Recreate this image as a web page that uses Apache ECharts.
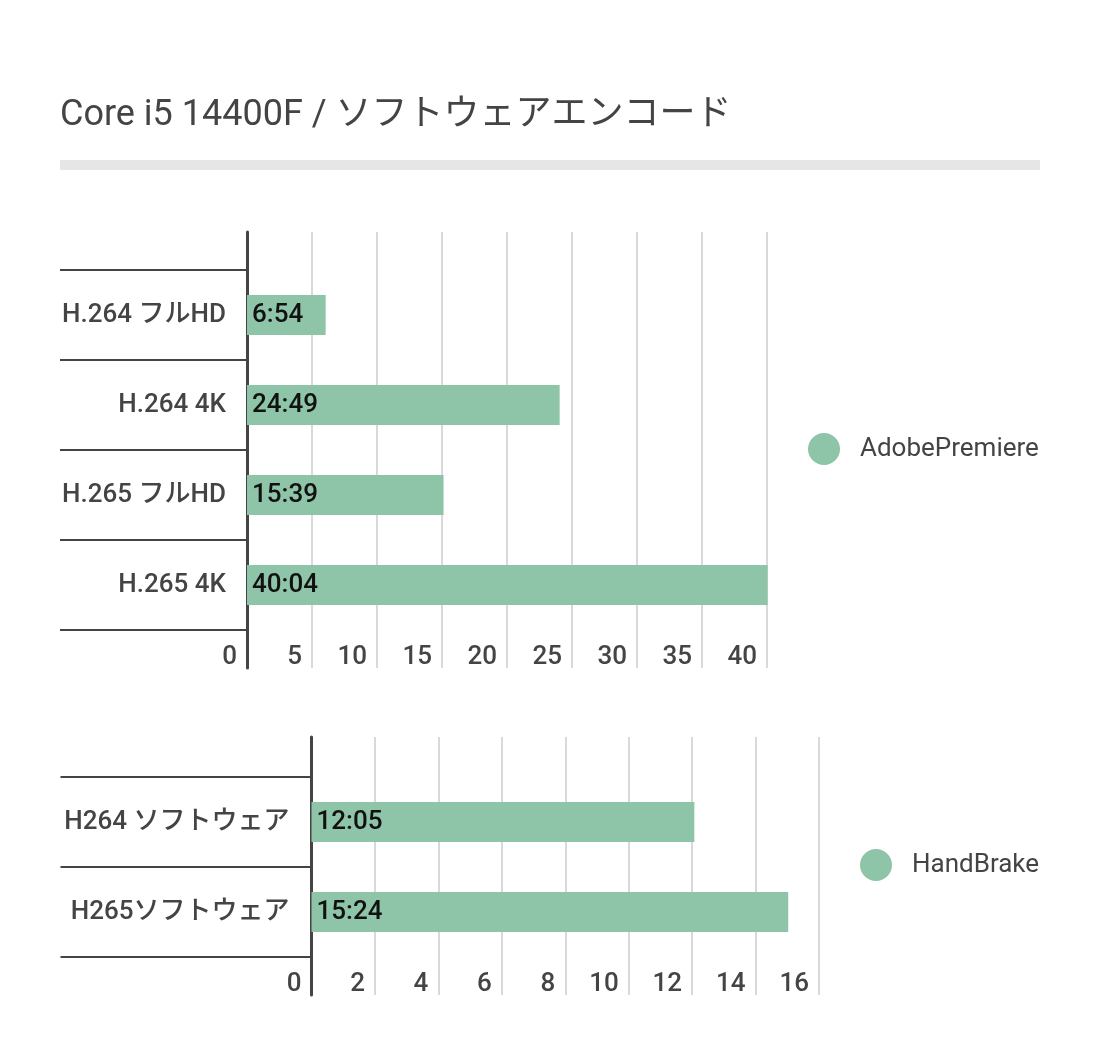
<!DOCTYPE html>
<html>
<head>
<meta charset="utf-8">
<script src="https://cdn.jsdelivr.net/npm/echarts@6/dist/echarts.min.js"></script>
<style>
html,body{margin:0;padding:0;background:#fff;}
#main{width:1100px;height:1064px;}
</style>
</head>
<body>
<div id="main"></div>
<script>
var titleText = 'Core i5 14400F / ソフトウェアエンコード';

var premiereName = 'AdobePremiere';
var premiereCategories = ['H.264 フルHD', 'H.264 4K', 'H.265 フルHD', 'H.265 4K'];
var premiereValues = [6.05, 24.05, 15.12, 40.05];
var premiereLabels = ['6:54', '24:49', '15:39', '40:04'];
var premiereTicks = [0, 40, 5];

var handbrakeName = 'HandBrake';
var handbrakeCategories = ['H264 ソフトウェア', 'H265ソフトウェア'];
var handbrakeValues = [12.07, 15.03];
var handbrakeLabels = ['12:05', '15:24'];
var handbrakeTicks = [0, 16, 2];

var FONT = 'Roboto, "Noto Sans CJK JP", sans-serif';
var TEXT = '#444444';
var BAR = '#8ec4a8';
var FS = 26;

var chart = echarts.init(document.getElementById('main'), null, {renderer: 'canvas'});

function catAxis(gridIndex, data, tickLen, margin) {
  return {
    type: 'category', gridIndex: gridIndex, data: data, inverse: true,
    axisLine: {show: false},
    axisTick: {show: true, length: tickLen, lineStyle: {color: TEXT, width: 2}},
    axisLabel: {margin: margin, color: TEXT, fontSize: FS, fontWeight: 500, fontFamily: FONT, padding: [9, 0, 0, 0]},
    splitLine: {show: false}
  };
}
function hiddenValAxis(gridIndex, ticks) {
  return {type: 'value', gridIndex: gridIndex, min: ticks[0], max: ticks[1], interval: ticks[2], show: false};
}
function frameXAxis(gridIndex, ticks) {
  return {
    type: 'value', gridIndex: gridIndex, min: ticks[0], max: ticks[1], interval: ticks[2],
    axisLine: {show: false}, axisTick: {show: false},
    splitLine: {show: true, lineStyle: {color: '#d9d9d9', width: 2}},
    axisLabel: {inside: true, margin: -2, align: 'right', padding: [0, 10, 0, 0],
      color: TEXT, fontSize: FS, fontWeight: 500, fontFamily: FONT}
  };
}
function frameYAxis(gridIndex) {
  return {
    type: 'value', gridIndex: gridIndex, min: 0, max: 1,
    axisLine: {show: true, onZero: false, lineStyle: {color: TEXT, width: 3}},
    axisTick: {show: false}, axisLabel: {show: false}, splitLine: {show: false}
  };
}
function barSeries(name, idx, values, labels) {
  return {
    name: name, type: 'bar', xAxisIndex: idx, yAxisIndex: idx,
    data: values, barWidth: 40, clip: false,
    itemStyle: {color: BAR},
    label: {show: true, position: 'insideLeft', distance: 5,
      formatter: function (p) { return labels[p.dataIndex]; },
      color: '#111111', fontSize: FS, fontWeight: 500, fontFamily: FONT, padding: [9, 0, 0, 0]},
    emphasis: {disabled: true}
  };
}

var option = {
  backgroundColor: '#ffffff',
  animation: false,
  title: {
    text: titleText, left: 60, top: 98, padding: 0,
    textStyle: {color: TEXT, fontSize: 36, fontWeight: 400, fontFamily: FONT}
  },
  graphic: [{type: 'rect', shape: {x: 60, y: 160, width: 980, height: 10}, style: {fill: '#e6e6e6'}, silent: true}],
  legend: [
    {data: [premiereName], left: 808, top: 433, padding: 0, icon: 'circle', itemWidth: 32, itemHeight: 32,
      textStyle: {color: TEXT, fontSize: FS, fontFamily: FONT, padding: [6, 0, 0, 15]}, selectedMode: false},
    {data: [handbrakeName], left: 860, top: 849, padding: 0, icon: 'circle', itemWidth: 32, itemHeight: 32,
      textStyle: {color: TEXT, fontSize: FS, fontFamily: FONT, padding: [6, 0, 0, 15]}, selectedMode: false}
  ],
  grid: [
    {left: 247, top: 270, width: 520, height: 360},
    {left: 247, top: 232, width: 520, height: 436},
    {left: 311.5, top: 777, width: 507.5, height: 180},
    {left: 311.5, top: 737, width: 507.5, height: 258}
  ],
  xAxis: [
    hiddenValAxis(0, premiereTicks),
    frameXAxis(1, premiereTicks),
    hiddenValAxis(2, handbrakeTicks),
    frameXAxis(3, handbrakeTicks)
  ],
  yAxis: [
    catAxis(0, premiereCategories, 187, 21),
    frameYAxis(1),
    catAxis(2, handbrakeCategories, 251, 22),
    frameYAxis(3)
  ],
  series: [
    barSeries(premiereName, 0, premiereValues, premiereLabels),
    barSeries(handbrakeName, 2, handbrakeValues, handbrakeLabels)
  ]
};
chart.setOption(option);
</script>
</body>
</html>
